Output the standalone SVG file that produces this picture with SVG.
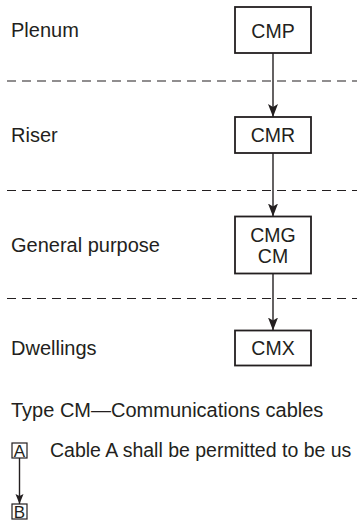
<svg xmlns="http://www.w3.org/2000/svg" width="357" height="529" viewBox="0 0 357 529">
<style>
text{font-family:"Liberation Sans",Arial,sans-serif;font-size:20px;fill:#231f20}
.bt{font-size:19.5px;text-anchor:middle}
.lt{font-size:17px;text-anchor:middle}
.box{fill:#fff;stroke:#231f20;stroke-width:1.8}
.sbox{fill:#fff;stroke:#231f20;stroke-width:1.2}
.dash{stroke:#231f20;stroke-width:1.2;stroke-dasharray:9 6;fill:none}
.conn{stroke:#231f20;stroke-width:1.4;fill:none}
</style>
<defs>
<marker id="ah" markerUnits="userSpaceOnUse" markerWidth="14" markerHeight="12" viewBox="-13 -6 14 12" refX="0" refY="0" orient="auto">
<path d="M0,0 L-13,-5 L-10,0 L-13,5 Z" fill="#231f20"/>
</marker>
<marker id="ahs" markerUnits="userSpaceOnUse" markerWidth="11" markerHeight="10" viewBox="-10 -5 11 10" refX="0" refY="0" orient="auto">
<path d="M0,0 L-10,-4 L-8,0 L-10,4 Z" fill="#231f20"/>
</marker>
</defs>
<g id="separators">
<line class="dash" x1="7" y1="81" x2="357" y2="81"/>
<line class="dash" x1="7" y1="190.5" x2="357" y2="190.5"/>
<line class="dash" x1="7" y1="298.5" x2="357" y2="298.5"/>
</g>
<g id="labels">
<text x="11" y="36.5">Plenum</text>
<text x="11" y="141.5">Riser</text>
<text x="11" y="251.5">General purpose</text>
<text x="11" y="355">Dwellings</text>
<text x="11" y="417">Type CM—Communications cables</text>
<text x="50" y="457" style="font-size:19.5px">Cable A shall be permitted to be us</text>
</g>
<g id="connectors">
<line class="conn" x1="273" y1="53" x2="273" y2="117" marker-end="url(#ah)"/>
<line class="conn" x1="273" y1="153" x2="273" y2="216.5" marker-end="url(#ah)"/>
<line class="conn" x1="273" y1="273.5" x2="273" y2="330.5" marker-end="url(#ah)"/>
<line class="conn" x1="19.5" y1="458" x2="19.5" y2="504" stroke-width="1.2" marker-end="url(#ahs)"/>
</g>
<g id="cmp">
<rect class="box" x="235" y="7" width="76" height="46"/>
<text class="bt" x="273" y="37.5">CMP</text>
</g>
<g id="cmr">
<rect class="box" x="235" y="117" width="76" height="36"/>
<text class="bt" x="273" y="141.5">CMR</text>
</g>
<g id="cmg">
<rect class="box" x="235" y="216.5" width="76" height="57"/>
<text class="bt" x="273" y="242">CMG</text>
<text class="bt" x="273" y="262.5">CM</text>
</g>
<g id="cmx">
<rect class="box" x="235" y="330.5" width="76" height="35"/>
<text class="bt" x="273" y="355">CMX</text>
</g>
<g id="legend-a">
<rect class="sbox" x="12" y="443" width="15" height="15"/>
<text class="lt" x="19.5" y="456.5">A</text>
</g>
<g id="legend-b">
<rect class="sbox" x="12" y="504" width="15" height="15"/>
<text class="lt" x="19.5" y="517.5">B</text>
</g>
</svg>
